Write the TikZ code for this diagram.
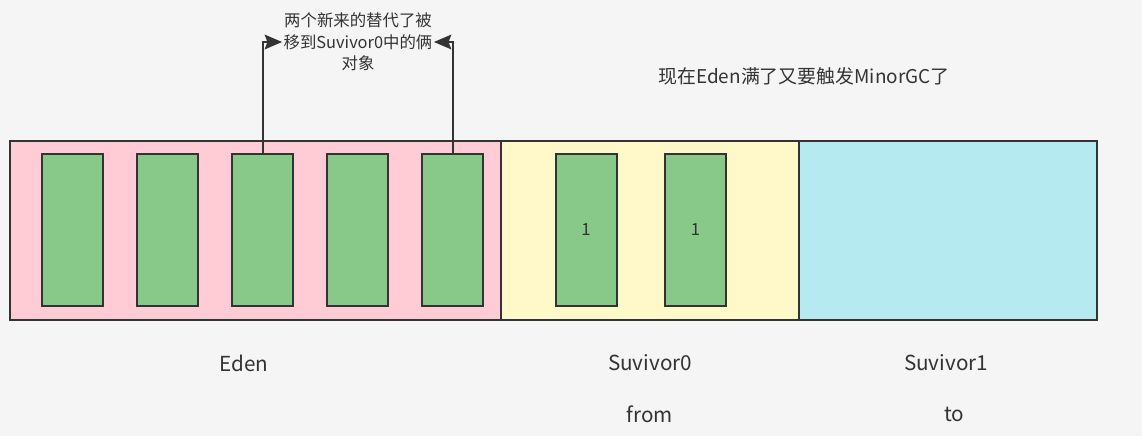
\documentclass[tikz,border=0pt]{standalone}
\usepackage{fontspec}
\setmainfont{Noto Sans CJK SC}
\usetikzlibrary{arrows.meta}
\definecolor{bgcol}{HTML}{F5F5F5}
\definecolor{edencol}{HTML}{FFCCD5}
\definecolor{s0col}{HTML}{FFF9C9}
\definecolor{s1col}{HTML}{B4EAF0}
\definecolor{objcol}{HTML}{88C888}
\definecolor{inkcol}{HTML}{333333}
\tikzset{area/.style = {draw=inkcol, line width=1.5pt, inner sep=0pt, minimum height=134.25pt},
         obj/.style = {draw=inkcol, fill=objcol, line width=1.5pt, inner sep=0pt,
                       minimum width=45.75pt, minimum height=114pt, font=\fontsize{12.5}{12.5}\selectfont, text=inkcol},
         lbl/.style = {text=inkcol, font=\fontsize{15.5}{18}\selectfont},
         move/.style = {draw=inkcol, line width=1.5pt, -{Stealth[length=13pt,width=11pt,inset=2pt]}}}

\begin{document}
\begin{tikzpicture}[x=0.75pt, y=-0.75pt]
\fill[bgcol] (0,0) rectangle (1142,436);
\useasboundingbox (0,0) rectangle (1142,436);
% the three areas
\node[area, fill=edencol, minimum width=368.25pt] (eden) at (255.5,230.5) {};
\node[area, fill=s0col, minimum width=223.5pt] (surv0) at (650,230.5) {};
\node[area, fill=s1col, minimum width=223.5pt] (surv1) at (948,230.5) {};
% objects
\foreach \i/\x in {1/72.5, 2/167.5, 3/262.5, 4/357.5, 5/452.5}
  \node[obj] (e\i) at (\x,230) {};
\node[obj] (s1) at (586,230) {1};
\node[obj] (s2) at (695.5,230) {1};
% labels
\node[lbl] at (244,363) {Eden};
\node[lbl] at (650,363) {Suvivor0};
\node[lbl] at (946,363) {Suvivor1};
\node[lbl] at (650,414) {from};
\node[lbl] at (954,414) {to};
\node[lbl, font=\fontsize{14.2}{17}\selectfont] (msg) at (804,76) {现在Eden满了又要触发MinorGC了};
\node[lbl, font=\fontsize{12.3}{16}\selectfont, align=center, inner sep=1pt] (note) at (358,42)
  {两个新来的替代了被\\移到Suvivor0中的俩\\对象};
% moved objects
\draw[move] (e3.north) |- (note.west);
\draw[move] (e5.north) |- (note.east);
\end{tikzpicture}
\end{document}
